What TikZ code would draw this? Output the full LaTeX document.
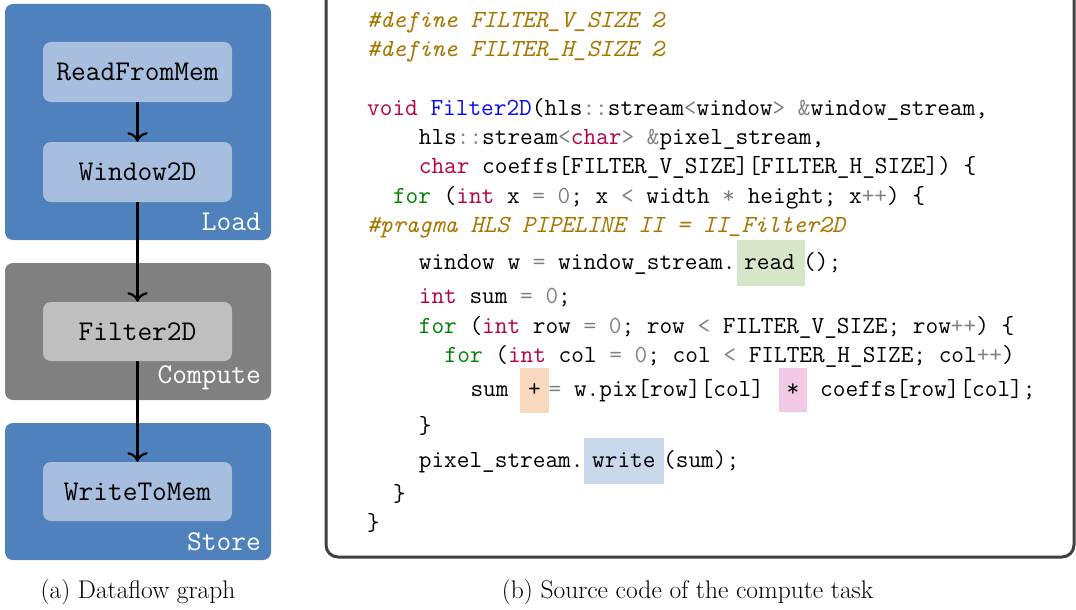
\documentclass[tikz,border=0pt]{standalone}
\usepackage{fontspec}
\usetikzlibrary{arrows.meta}

% palette
\definecolor{grpblue}{RGB}{79,129,189}
\definecolor{taskblue}{RGB}{167,190,222}
\definecolor{grpgray}{RGB}{128,128,128}
\definecolor{taskgray}{RGB}{191,191,191}
\definecolor{framegray}{RGB}{64,64,64}
\definecolor{kwred}{RGB}{182,0,70}
\definecolor{opgray}{RGB}{128,128,128}
\definecolor{forgreen}{RGB}{0,128,0}
\definecolor{fnblue}{RGB}{10,10,240}
\definecolor{ppgold}{RGB}{166,118,0}
\definecolor{hlgreen}{RGB}{214,230,200}
\definecolor{hlpeach}{RGB}{249,216,192}
\definecolor{hlpink}{RGB}{242,202,230}
\definecolor{hlblue}{RGB}{201,216,235}

% syntax colouring
\newcommand\cKw[1]{\textcolor{kwred}{#1}}
\newcommand\cOp[1]{\textcolor{opgray}{#1}}
\newcommand\cFor[1]{\textcolor{forgreen}{#1}}
\newcommand\cFn[1]{\textcolor{fnblue}{#1}}
\newcommand\cPp[1]{\textcolor{ppgold}{\itshape #1}}

\newcommand\codefont{\fontsize{24.6}{29}\selectfont\ttfamily}
\newcommand\taskfont{\fontsize{28.6}{32}\selectfont\ttfamily}
\newcommand\capfont{\fontsize{25.5}{29}\selectfont\rmfamily}

\tikzset{
  grp/.style={rounded corners=8pt, inner sep=0, minimum width=266, minimum height=#1},
  task/.style={rounded corners=8pt, inner sep=0, minimum width=189, minimum height=#1, font=\taskfont, text=black},
  grplabel/.style={anchor=base east, inner sep=0, font=\taskfont, text=white},
  flow/.style={line width=2.2pt, -{To[scale=1.5]}},
  code/.style={anchor=base west, inner sep=0, font=\codefont, text=black},
  caption/.style={anchor=base, inner sep=0, font=\capfont},
  codeframe/.style={draw=framegray, line width=3pt, rounded corners=12pt, inner sep=0, minimum width=748, minimum height=597}
}

\begin{document}
\begin{tikzpicture}[x=1pt, y=-1pt]
\useasboundingbox (0,0) rectangle (1076,610);

% ---------- (a) dataflow graph ----------
\node[grp=236, fill=grpblue] (load) at (138,122) {};
\node[grp=137, fill=grpgray] (compute) at (138,331.5) {};
\node[grp=137, fill=grpblue] (store) at (138,491.5) {};

\node[task=60, fill=taskblue] (rfm) at (137.5,72) {ReadFromMem};
\node[task=60, fill=taskblue] (w2d) at (137.5,172) {Window2D};
\node[task=59, fill=taskgray] (f2d) at (137.5,331.5) {Filter2D};
\node[task=59, fill=taskblue] (wtm) at (137.5,491.5) {WriteToMem};

\node[grplabel] (loadlbl) at (261,230) {Load};
\node[grplabel] (computelbl) at (261,383) {Compute};
\node[grplabel] (storelbl) at (261,550) {Store};

\draw[flow] (rfm.south) -- (w2d.north);
\draw[flow] (w2d.south) -- (f2d.north);
\draw[flow] (f2d.south) -- (wtm.north);

\node[caption] (capa) at (138,598) {(a) Dataflow graph};

% ---------- (b) source code ----------
\node[codeframe] (frame) at (700,258.5) {};

% highlighted operations
\fill[hlgreen] (737,240) rectangle (805,286);
\fill[hlpeach] (520,368) rectangle (549,413);
\fill[hlpink]  (779,368) rectangle (807,412);
\fill[hlblue]  (584,438) rectangle (664,484);

\node[code] (l1) at (367,28) {\cPp{\#define FILTER\_V\_SIZE 2}};
\node[code] (l2) at (367,57) {\cPp{\#define FILTER\_H\_SIZE 2}};
\node[code] (l4) at (367,115) {\cKw{void} \cFn{Filter2D}(hls\cOp{::}stream\cOp{<}window\cOp{>} \cOp{\&}window\_stream,};
\node[code] (l5) at (418.66,144) {hls\cOp{::}stream\cOp{<}\cKw{char}\cOp{>} \cOp{\&}pixel\_stream,};
\node[code] (l6) at (418.66,173) {\cKw{char} coeffs[FILTER\_V\_SIZE][FILTER\_H\_SIZE]) \{};
\node[code] (l7) at (392.83,203) {\cFor{for} (\cKw{int} x \cOp{=} \cOp{0}; x \cOp{<} width \cOp{*} height; x\cOp{++}) \{};
\node[code] (l8) at (367,232) {\cPp{\#pragma HLS PIPELINE II = II\_Filter2D}};
\node[code] (l9) at (418.66,269) {window w \cOp{=} window\_stream.};
\node[code] (l9b) at (744,269) {read};
\node[code] (l9c) at (803,269) {();};
\node[code] (l10) at (418.66,303) {\cKw{int} sum \cOp{=} \cOp{0};};
\node[code] (l11) at (418.66,333) {\cFor{for} (\cKw{int} row \cOp{=} \cOp{0}; row \cOp{<} FILTER\_V\_SIZE; row\cOp{++}) \{};
\node[code] (l12) at (444.49,362) {\cFor{for} (\cKw{int} col \cOp{=} \cOp{0}; col \cOp{<} FILTER\_H\_SIZE; col\cOp{++})};
\node[code] (l13) at (470.32,396) {sum};
\node[code] (l13b) at (528,396) {+};
\node[code] (l13c) at (548.5,396) {\cOp{=} w.pix[row][col]};
\node[code] (l13d) at (786.5,396) {*};
\node[code] (l13e) at (820,396) {coeffs[row][col];};
\node[code] (l14) at (418.66,433) {\}};
\node[code] (l15) at (418.66,467) {pixel\_stream.};
\node[code] (l15b) at (592,467) {write};
\node[code] (l15c) at (663,467) {(sum);};
\node[code] (l16) at (392.83,501) {\}};
\node[code] (l17) at (367,530) {\}};

\node[caption] (capb) at (687.5,598) {(b) Source code of the compute task};
\end{tikzpicture}
\end{document}
